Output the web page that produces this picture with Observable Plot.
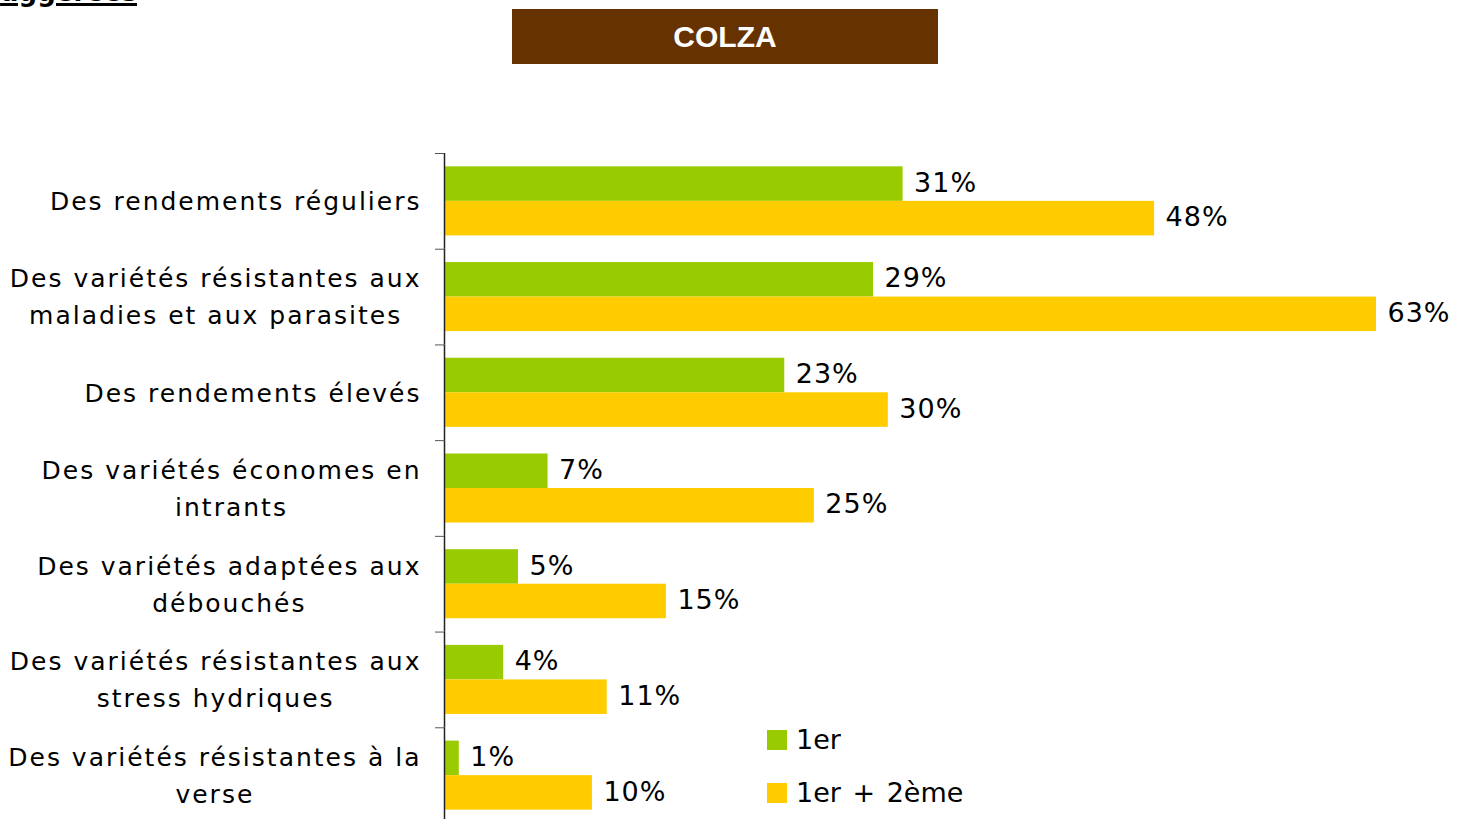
<!DOCTYPE html>
<html><head><meta charset="utf-8">
<script src="https://cdn.jsdelivr.net/npm/d3@7"></script>
<script src="https://cdn.jsdelivr.net/npm/@observablehq/plot@0.6"></script>
<style>
body{margin:0;background:#fff;overflow:hidden}
#page{position:relative;width:1466px;height:819px;overflow:hidden;font-family:"DejaVu Sans",Verdana,sans-serif}
#cut{position:absolute;right:1329px;top:-23px;font:bold 26px/30px "DejaVu Sans",Verdana,sans-serif;text-decoration:underline;text-decoration-thickness:3px;white-space:nowrap;color:#000}
#title{position:absolute;left:512px;top:9px;width:426px;height:55px;background:#663300;color:#fff;font:bold 30px "Liberation Sans",Arial,sans-serif;display:flex;align-items:center;justify-content:center}
#chart{position:absolute;left:0;top:0}
#chart g[font-size="25"]{letter-spacing:2px}
#chart g[font-size="27"]{letter-spacing:1px}
#legend{position:absolute;left:767px;top:725px;width:400px}
#legend *{font-family:"DejaVu Sans",Verdana,sans-serif !important;font-size:27px !important;line-height:30px;color:#000;word-spacing:3px}
#legend [class$="-swatch"]{padding-bottom:23px !important;margin:0 !important}
#legend [class$="-swatch"] > svg{margin-right:9px !important}
</style></head>
<body><div id="page">
<div id="cut">uggérées</div>
<div id="title">COLZA</div>
<div id="chart"></div>
<div id="legend"></div>
</div>
<script>
const categories = [
  "Des rendements réguliers",
  "Des variétés résistantes aux\nmaladies et aux parasites",
  "Des rendements élevés",
  "Des variétés économes en\nintrants",
  "Des variétés adaptées aux\ndébouchés",
  "Des variétés résistantes aux\nstress hydriques",
  "Des variétés résistantes à la\nverse"
];
const series = ["1er", "1er + 2ème"];
const firstValues = [31, 29, 23, 7, 5, 4, 1];
const firstSecondValues = [48, 63, 30, 25, 15, 11, 10];
const colors = ["#99CC00", "#FFCC00"];

const data = categories.flatMap((c, i) => [
  {category: c, series: series[0], value: firstValues[i]},
  {category: c, series: series[1], value: firstSecondValues[i]}
]);

const labelSize = 25, labelSpacing = 2, labelGap = 25;
const ctx = document.createElement("canvas").getContext("2d");
ctx.font = labelSize + "px 'DejaVu Sans'";
const lineWidth = l => ctx.measureText(l).width + l.length * labelSpacing;
const blockWidth = c => Math.max(...c.split("\n").map(lineWidth));

const width = 1466, height = 823, marginTop = 153, marginLeft = 444, marginRight = 90;
const step = (height - marginTop) / categories.length;

const plot = Plot.plot({
  width, height, marginTop, marginLeft, marginRight, marginBottom: 0,
  style: {fontFamily: "DejaVu Sans, Verdana, sans-serif", background: "transparent", color: "#000", overflow: "visible"},
  x: {domain: [0, 63], axis: null},
  fy: {domain: categories, padding: 0, label: null, round: false},
  y: {domain: series, paddingInner: 0, paddingOuter: 0.386, axis: null, round: false},
  color: {domain: series, range: colors},
  marks: [
    Plot.barX(data, {fy: "category", y: "series", x: "value", fill: "series"}),
    Plot.text(data, {fy: "category", y: "series", x: "value", text: d => d.value + "%", textAnchor: "start", dx: 11, dy: -1, fill: "#000", fontSize: 27}),
    Plot.ruleX([0], {stroke: "#222", strokeWidth: 1.5}),
    Plot.axisFy({anchor: "left", tickSize: 9, tickFormat: () => "", dy: -step / 2, stroke: "#555"}),
    ...categories.map(c => Plot.text([c], {
      fy: d => d, text: d => d, frameAnchor: "left", textAnchor: "middle", fontSize: labelSize,
      lineHeight: 37 / labelSize, dx: -labelGap + labelSpacing - blockWidth(c) / 2, dy: -3, fill: "#000"
    }))
  ]
});
document.getElementById("chart").appendChild(plot);

const legend = Plot.legend({color: {domain: series, range: colors}, columns: 1, swatchSize: 20});
document.getElementById("legend").appendChild(legend);
</script>
</body></html>
